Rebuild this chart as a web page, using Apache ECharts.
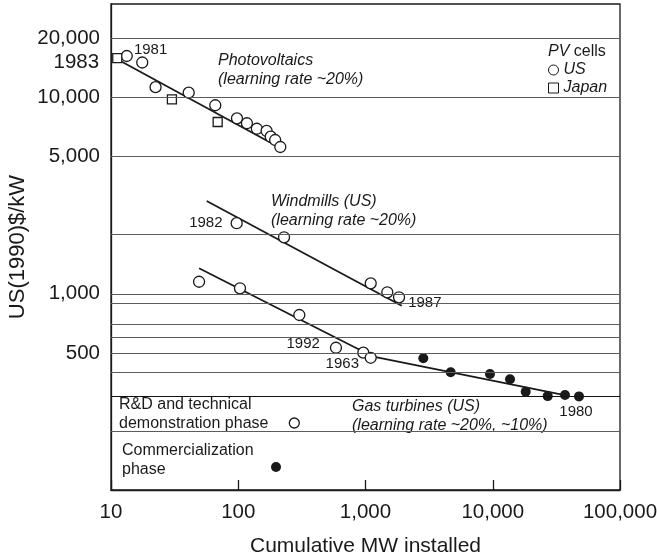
<!DOCTYPE html>
<html>
<head>
<meta charset="utf-8">
<script src="https://cdn.jsdelivr.net/npm/echarts@6/dist/echarts.min.js"></script>
<style>
  html, body { margin: 0; padding: 0; background: #fff; }
  #chart { width: 657px; height: 559px; }
</style>
</head>
<body>
<div id="chart"></div>
<script>
// Photovoltaic cells, US (cumulative MW, US(1990)$/kW)
const pvUsMW   = [13.3, 17.6, 22.4, 40.8, 66, 97.7, 117, 140, 167, 180, 195, 214];
const pvUsCost = [16300, 15100, 11300, 10600, 9140, 7840, 7400, 6940, 6760, 6320, 6080, 5600];
// Photovoltaic cells, Japan
const pvJpMW   = [11.2, 30.1, 68.9];
const pvJpCost = [15900, 9800, 7510];
// Windmills, US
const windMW   = [97.2, 229, 1099, 1484, 1834];
const windCost = [2290, 1941, 1131, 1018, 960];
// Gas turbines, US - R&D and technical demonstration phase
const gasRdMW   = [49.2, 103.2, 302, 586, 961, 1099];
const gasRdCost = [1152, 1067, 780, 531, 501, 472];
// Gas turbines, US - commercialization phase
const gasComMW   = [2846, 4672, 9510, 13670, 18150, 27040, 36970, 47620];
const gasComCost = [469, 398, 390, 367, 317, 301, 305, 300];
// Fitted experience curves
const pvFitMW   = [11.2, 194];
const pvFitCost = [15700, 5730];
const windFitMW   = [56.5, 1925];
const windFitCost = [2972, 870];
const gasFitMW   = [49.2, 1152, 35850];
const gasFitCost = [1349, 478, 305];
// Value axis: labelled levels and horizontal reference lines
const yTickLabels = [100, 500, 1000, 5000, 10000, 20000];
const gridLevels  = [20000, 10000, 5000, 2000, 1000, 900, 700, 600, 500, 400, 300, 200];

const FONT = '"Liberation Sans", Arial, Helvetica, sans-serif';
const INK = '#1a1a1a';
const fmt = v => Number(v).toLocaleString('en-US');
const pairs = (xs, ys) => xs.map((x, i) => [x, ys[i]]);

// Year label attached to a point
const yearLabel = (text, cfg) => ({
  show: true, formatter: text, color: INK, fontSize: 15, fontFamily: FONT, opacity: 1, ...cfg
});
const withLabels = (pts, labels) => pts.map((p, i) =>
  labels[i] ? { value: p, label: labels[i] } : p);

const openSym = { color: '#fff', borderColor: INK, borderWidth: 1.3, opacity: 1 };
const solidSym = { color: INK, borderColor: INK, borderWidth: 0, opacity: 1 };

const fitLine = (name, xs, ys) => ({
  name, type: 'line', data: pairs(xs, ys), symbol: 'none', silent: true, z: 2,
  lineStyle: { color: INK, width: 1.8 }, animation: false
});

const refLines = gridLevels.map(v => ({
  yAxis: v,
  lineStyle: { color: v === 300 ? '#111' : '#5c5c5c', width: 1.1, type: 'solid' },
  label: { show: yTickLabels.includes(v) }
}));
refLines.push({ yAxis: 100, lineStyle: { opacity: 0 }, label: { show: true } });

const chart = echarts.init(document.getElementById('chart'), null, { renderer: 'canvas' });

chart.setOption({
  animation: false,
  backgroundColor: '#fff',
  textStyle: { fontFamily: FONT },
  grid: {
    left: 111, right: 37, top: 4, bottom: 69,
    outerBoundsMode: 'none', containLabel: false,
    show: true, borderColor: INK, borderWidth: 1.3, backgroundColor: 'transparent'
  },
  legend: {
    data: ['US', 'Japan'],
    orient: 'vertical',
    left: 548, top: 61, padding: 0,
    itemWidth: 10, itemHeight: 10, itemGap: 0,
    selectedMode: false,
    itemStyle: { color: '#fff', borderColor: INK, borderWidth: 1 },
    textStyle: { fontSize: 16, fontStyle: 'italic', color: INK, fontFamily: FONT, lineHeight: 18 }
  },
  xAxis: {
    type: 'log', logBase: 10, min: 10, max: 100000,
    name: 'Cumulative MW installed', nameLocation: 'middle', nameGap: 46,
    nameTextStyle: { fontSize: 21, color: INK, fontFamily: FONT },
    axisLine: { show: true, lineStyle: { color: INK, width: 1.3 } },
    axisTick: { show: true, inside: true, length: 10, lineStyle: { color: INK, width: 1.3 } },
    axisLabel: { fontSize: 20.5, color: INK, margin: 12, formatter: v => fmt(v) },
    splitLine: { show: false }, minorTick: { show: false }
  },
  yAxis: {
    type: 'log', logBase: 10, min: 100, max: 30000,
    name: 'US(1990)$/kW', nameLocation: 'middle', nameGap: 82,
    nameTextStyle: { fontSize: 22, color: INK, fontFamily: FONT },
    axisLine: { show: true, lineStyle: { color: INK, width: 1.3 } },
    axisTick: { show: false },
    axisLabel: { show: false },
    splitLine: { show: false }
  },
  series: [
    {
      name: 'levels', type: 'line', data: [], silent: true, z: 1,
      markLine: {
        silent: true, symbol: 'none', animation: false,
        label: {
          position: 'start', distance: 11, fontSize: 20.5, color: INK, fontFamily: FONT,
          formatter: p => fmt(p.value)
        },
        data: refLines
      }
    },
    fitLine('pvFit', pvFitMW, pvFitCost),
    fitLine('windFit', windFitMW, windFitCost),
    fitLine('gasFit', gasFitMW, gasFitCost),
    {
      name: 'US', type: 'scatter', symbol: 'circle', symbolSize: 11, z: 3,
      itemStyle: openSym,
      data: withLabels(pairs(pvUsMW, pvUsCost), {
        0: yearLabel('1981', { position: 'right', distance: 1, offset: [0, -6] })
      })
    },
    {
      name: 'Japan', type: 'scatter', symbol: 'rect', symbolSize: 9, z: 3,
      itemStyle: openSym,
      data: withLabels(pairs(pvJpMW, pvJpCost), {
        0: yearLabel('1983', { position: 'left', distance: 13, offset: [0, 4], fontSize: 20.5 })
      })
    },
    {
      name: 'Windmills (US)', type: 'scatter', symbol: 'circle', symbolSize: 11, z: 3,
      itemStyle: openSym,
      data: withLabels(pairs(windMW, windCost), {
        0: yearLabel('1982', { position: 'left', distance: 8 }),
        4: yearLabel('1987', { position: 'right', distance: 2, offset: [0, 6],
                               backgroundColor: '#fff', padding: [0, 2, 0, 1] })
      })
    },
    {
      name: 'Gas turbines (US) R&D', type: 'scatter', symbol: 'circle', symbolSize: 11, z: 3,
      itemStyle: openSym,
      data: withLabels(pairs(gasRdMW, gasRdCost), {
        3: yearLabel('1992', { position: 'left', distance: 10, offset: [0, -4] }),
        4: yearLabel('1963', { position: 'bottom', distance: 0, offset: [-21, -2] })
      })
    },
    {
      name: 'Gas turbines (US) commercial', type: 'scatter', symbol: 'circle', symbolSize: 10, z: 3,
      itemStyle: solidSym,
      data: withLabels(pairs(gasComMW, gasComCost), {
        7: yearLabel('1980', { position: 'bottom', distance: 3, offset: [-3, 0] })
      })
    }
  ],
  graphic: [
    {
      type: 'text', left: 218, top: 51, silent: true,
      style: { text: 'Photovoltaics\n(learning rate ~20%)', fontSize: 16, fontStyle: 'italic',
               fontFamily: FONT, lineHeight: 19, fill: INK }
    },
    {
      type: 'text', left: 271, top: 192, silent: true,
      style: { text: 'Windmills (US)\n(learning rate ~20%)', fontSize: 16, fontStyle: 'italic',
               fontFamily: FONT, lineHeight: 19, fill: INK }
    },
    {
      type: 'text', left: 352, top: 397.5, silent: true,
      style: { text: 'Gas turbines (US)\n(learning rate ~20%, ~10%)', fontSize: 16, fontStyle: 'italic',
               fontFamily: FONT, lineHeight: 19, fill: INK }
    },
    {
      type: 'text', left: 548, top: 44, silent: true,
      style: { text: '{i|PV} cells', fontSize: 16, fontFamily: FONT, fill: INK,
               rich: { i: { fontStyle: 'italic', fontSize: 16, fontFamily: FONT, fill: INK } } }
    },
    {
      type: 'text', left: 119, top: 395.5, silent: true,
      style: { text: 'R&D and technical\ndemonstration phase', fontSize: 16,
               fontFamily: FONT, lineHeight: 19, fill: INK }
    },
    {
      type: 'circle', silent: true, z: 10,
      shape: { cx: 294.3, cy: 423, r: 5 },
      style: { fill: '#fff', stroke: INK, lineWidth: 1.3 }
    },
    {
      type: 'text', left: 122, top: 441, silent: true,
      style: { text: 'Commercialization\nphase', fontSize: 16,
               fontFamily: FONT, lineHeight: 19, fill: INK }
    },
    {
      type: 'circle', silent: true, z: 10,
      shape: { cx: 276, cy: 467, r: 5 },
      style: { fill: INK }
    }
  ]
});
</script>
</body>
</html>
